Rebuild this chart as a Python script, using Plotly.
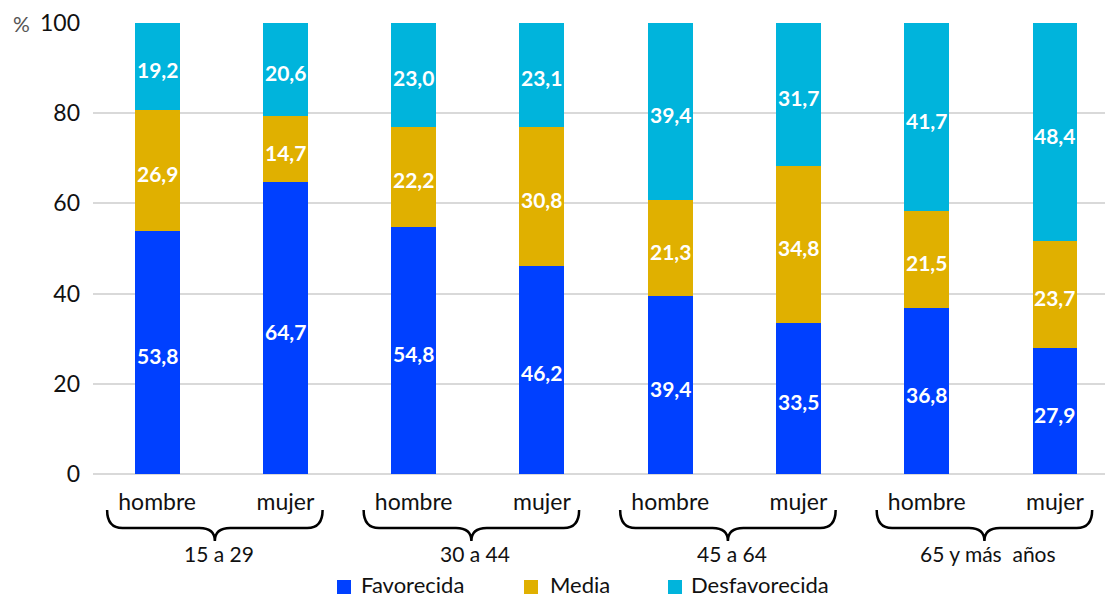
import plotly.graph_objects as go

# ---------------- data ----------------
groups = ["15 a 29", "30 a 44", "45 a 64", "65 y más  años"]
sexes = ["hombre", "mujer"]
favorecida = [53.8, 64.7, 54.8, 46.2, 39.4, 33.5, 36.8, 27.9]
media = [26.9, 14.7, 22.2, 30.8, 21.3, 34.8, 21.5, 23.7]
desfavorecida = [19.2, 20.6, 23.0, 23.1, 39.4, 31.7, 41.7, 48.4]
series_names = ["Favorecida", "Media", "Desfavorecida"]
y_ticks = [0, 20, 40, 60, 80, 100]

# ---------------- style ----------------
colors = ["#0040FF", "#E0B000", "#00B4DC"]
FONT = "Lato"
W, H = 1105, 597
ML, MR, MT, MB = 93, 0, 23, 123
PW, PH = W - ML - MR, H - MT - MB

def px_x(p):
    return (p - ML) / PW

def px_y(p):
    return (H - MB - p) / PH

xpos = list(range(len(groups) * len(sexes)))
ticktext = sexes * len(groups)

fig = go.Figure()
series = [favorecida, media, desfavorecida]
annotations = []
base = [0.0] * len(xpos)
for name, vals, col in zip(series_names, series, colors):
    fig.add_trace(go.Bar(
        x=xpos, y=vals, name=name, marker=dict(color=col, line=dict(width=0)),
        width=0.35, showlegend=False, hoverinfo="y",
    ))
    for xi, b, v in zip(xpos, base, vals):
        annotations.append(dict(
            x=xi, y=b + v / 2, xref="x", yref="y", yshift=-3,
            text=f"{v:.1f}".replace(".", ","), showarrow=False,
            xanchor="center", yanchor="middle",
            font=dict(family=FONT, size=21, color="white", weight="bold"),
        ))
    base = [b + v for b, v in zip(base, vals)]

shapes = []
y_top, y_mid, y_tip = px_y(510), px_y(528), px_y(541)
r = 0.12
for gi, g in enumerate(groups):
    h = gi * 2
    m = h + 1
    xl, xr, tip = h - 0.39, m + 0.29, h + 0.45
    path = (f"M {xl},{y_top} Q {xl},{y_mid} {xl + r},{y_mid} "
            f"L {tip - r},{y_mid} Q {tip},{y_mid} {tip},{y_tip} "
            f"Q {tip},{y_mid} {tip + r},{y_mid} "
            f"L {xr - r},{y_mid} Q {xr},{y_mid} {xr},{y_top}")
    shapes.append(dict(type="path", path=path, xref="x", yref="paper",
                       line=dict(color="black", width=2.5)))
    annotations.append(dict(x=tip + 0.03, y=px_y(553), xref="x", yref="paper",
                            text=g, showarrow=False, xanchor="center", yanchor="middle",
                            font=dict(family=FONT, size=21, color="#111111")))

# "%" label on y axis
annotations.append(dict(x=px_x(21), y=100, xref="paper", yref="y", text="%",
                        showarrow=False, xanchor="center", yanchor="middle",
                        font=dict(family=FONT, size=21, color="#555555")))

# manual legend
leg = [(337, 359), (524, 548), (668, 689)]
for (sx, tx), name, col in zip(leg, series_names, colors):
    shapes.append(dict(type="rect", xref="paper", yref="paper",
                       x0=px_x(sx), x1=px_x(sx + 14), y0=px_y(580), y1=px_y(594),
                       fillcolor=col, line=dict(width=0)))
    annotations.append(dict(x=px_x(tx), y=px_y(584), xref="paper", yref="paper",
                            text=name, showarrow=False, xanchor="left", yanchor="middle",
                            font=dict(family=FONT, size=22, color="#111111")))

fig.update_layout(
    width=W, height=H,
    margin=dict(l=ML, r=MR, t=MT, b=MB, pad=0),
    barmode="stack",
    plot_bgcolor="white", paper_bgcolor="white",
    font=dict(family=FONT, color="black"),
    shapes=shapes, annotations=annotations,
    xaxis=dict(range=[-0.5, 7.39], tickvals=xpos, ticktext=ticktext,
               tickfont=dict(family=FONT, size=23, color="#111111"),
               showgrid=False, zeroline=False, showline=False, ticks="",
               ticklabelstandoff=12),
    yaxis=dict(range=[0, 100], tickvals=y_ticks,
               tickfont=dict(family=FONT, size=23, color="#111111"),
               showgrid=True, gridcolor="#D9D9D9", gridwidth=2,
               zeroline=True, zerolinecolor="#D9D9D9", zerolinewidth=2,
               showline=False, ticks="", ticklabelstandoff=12),
)

fig.write_html("out.html", config={"displayModeBar": False},
               post_script="document.body.style.margin='0';")
